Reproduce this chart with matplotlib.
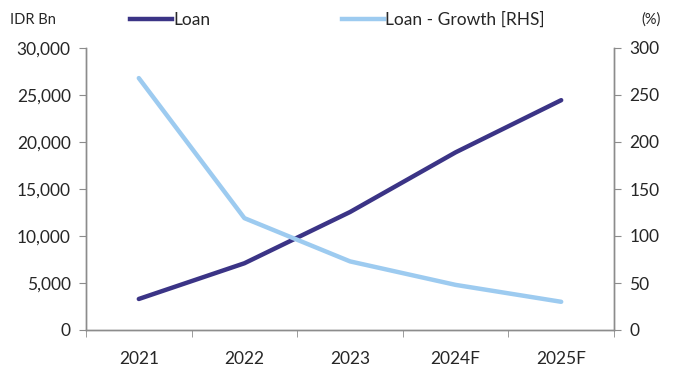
import matplotlib
matplotlib.use("Agg")
import matplotlib.pyplot as plt
from matplotlib.lines import Line2D

plt.rcParams['font.family'] = ['Lato', 'DejaVu Sans']

years = ["2021", "2022", "2023", "2024F", "2025F"]
loan = [3300, 7100, 12550, 18900, 24450]          # IDR Bn
loan_growth = [268, 119, 73, 48, 30]              # %

navy = "#3b3486"
light = "#9dcbf0"
gray = "#8c8c8c"
txt = "#262626"
fs = 12.5

fig = plt.figure(figsize=(6.73, 3.67), dpi=100)
ax = fig.add_axes([86/673, 1-330/367, (614-86)/673, (330-48)/367])
ax2 = ax.twinx()

x = list(range(len(years)))
ax.plot(x, loan, color=navy, lw=3.2, solid_capstyle="round", zorder=3)
ax2.plot(x, loan_growth, color=light, lw=3.2, solid_capstyle="round", zorder=2)

ax.set_xlim(-0.5, len(years) - 0.5)
ax.set_ylim(0, 30000)
ax2.set_ylim(0, 300)
ax.set_yticks(range(0, 30001, 5000))
ax.set_yticklabels([f"{v:,}" for v in range(0, 30001, 5000)])
ax2.set_yticks(range(0, 301, 50))

ax.set_xticks(x)
ax.set_xticklabels(years)
ax.set_xticks([i - 0.5 for i in range(len(years) + 1)], minor=True)
ax.tick_params(axis="x", which="major", length=0, pad=15, labelsize=fs, colors=txt)
ax.tick_params(axis="x", which="minor", length=5, color=gray, direction="out")
ax.tick_params(axis="y", length=5, color=gray, labelsize=fs, labelcolor=txt, pad=6)
ax2.tick_params(axis="y", length=5, color=gray, labelsize=fs, labelcolor=txt, pad=6)

for a in (ax, ax2):
    a.spines["top"].set_visible(False)
    for s in ("left", "right", "bottom"):
        a.spines[s].set_color(gray)
        a.spines[s].set_linewidth(1.0)

fig.text(10/673, 1-20/367, "IDR Bn", fontsize=10.5, color=txt, va="center", ha="left")
fig.text(661/673, 1-20/367, "(%)", fontsize=10.5, color=txt, va="center", ha="right")

# Legend entries, each placed on its own anchor
entries = [(navy, "Loan", 130), (light, "Loan - Growth [RHS]", 342)]
for color, label, xpix in entries:
    fig.legend([Line2D([], [], color=color, lw=3.2)], [label], loc="center left",
               bbox_to_anchor=(xpix/673, 1-20/367), frameon=False,
               fontsize=fs, handlelength=2.4, handletextpad=0.1,
               labelcolor=txt, borderaxespad=0, borderpad=0)

fig.savefig("out.png", dpi=100)
